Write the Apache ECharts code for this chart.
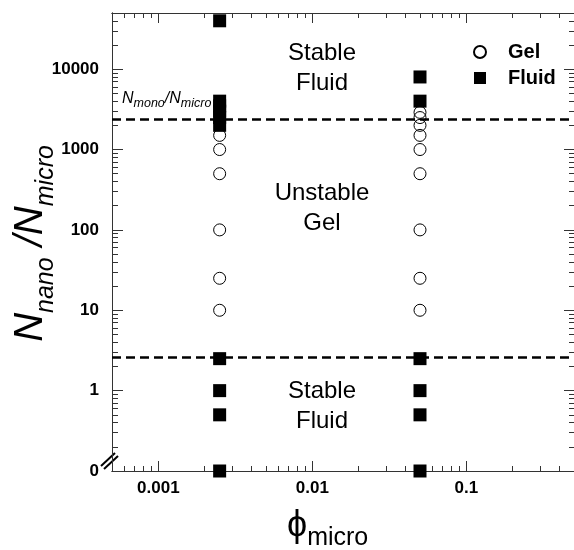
<!DOCTYPE html>
<html><head><meta charset="utf-8">
<script src="https://cdn.jsdelivr.net/npm/echarts@6/dist/echarts.min.js"></script>
<style>html,body{margin:0;padding:0;background:#fff}#c{width:574px;height:550px}</style>
</head><body><div id="c"></div>
<script>
// ---------- data ----------
const X_MIN = 0.0005, X_MAX = 0.5;
const Y_MIN = 0.1, Y_MAX = 50000;          // Y_MIN is the "0" position on the broken axis
const xTickValues = [0.001, 0.01, 0.1];
const xTickLabels = ['0.001', '0.01', '0.1'];
const yTickValues = [1, 10, 100, 1000, 10000];
const yLabelValues = [0.1, 1, 10, 100, 1000, 10000];
const yTickLabels = ['0', '1', '10', '100', '1000', '10000'];

const phiColumns = [0.0025, 0.05];
const gelAtPhi1 = [10, 25, 100, 500, 1000, 1500];
const gelAtPhi2 = [10, 25, 100, 500, 1000, 1500, 2000, 2500, 2900];
const fluidAtPhi1 = [0, 0.5, 1, 2.5, 2000, 2500, 3000, 3500, 4000, 40000];
const fluidAtPhi2 = [0, 0.5, 1, 2.5, 4000, 8000];
const boundaryUpper = 2400;   // N_mono/N_micro
const boundaryLower = 2.6;

// ---------- helpers ----------
const FONT = '"Liberation Sans", Arial, Helvetica, sans-serif';
const toY = v => (v === 0 ? Y_MIN : v);
const pairs = (x, ys) => ys.map(y => [x, toY(y)]);
function minorTicks(lo, hi) {
  const out = [];
  for (let e = Math.floor(Math.log10(lo)); e <= Math.ceil(Math.log10(hi)); e++) {
    for (let m = 2; m <= 9; m++) {
      const v = m * Math.pow(10, e);
      if (v > lo * 1.0001 && v < hi * 0.9999) out.push(v);
    }
  }
  return out;
}
function labelFor(values, labels) {
  return v => {
    for (let i = 0; i < values.length; i++) {
      if (Math.abs(Math.log10(v) - Math.log10(values[i])) < 1e-6) return labels[i];
    }
    return '';
  };
}
const ctx = document.createElement('canvas').getContext('2d');
function tw(s, size, style, weight) {
  ctx.font = (style || 'normal') + ' ' + (weight || 'normal') + ' ' + size + 'px ' + FONT;
  return ctx.measureText(s).width;
}
// parts: {t, size, dy(baseline offset), style, weight}
function subText(parts, x0, y0, rotation) {
  let cx = 0; const children = [];
  parts.forEach(p => {
    children.push({
      type: 'text', x: cx, y: p.dy + 0.15 * p.size,
      style: { text: p.t, fontSize: p.size, fontFamily: FONT, fontStyle: p.style || 'normal',
        fontWeight: p.weight || 'normal', fill: '#000', align: 'left', verticalAlign: 'bottom',
        textAlign: 'left', textVerticalAlign: 'bottom' }
    });
    cx += tw(p.t, p.size, p.style, p.weight);
  });
  return { type: 'group', x: x0, y: y0, rotation: rotation || 0, children };
}
function lenOf(parts) { return parts.reduce((s, p) => s + tw(p.t, p.size, p.style, p.weight), 0); }

const AX = '#333';
const tickLabelStyle = { color: '#000', fontSize: 17, fontWeight: 'bold', fontFamily: FONT };
function logAxis(pos, min, max, extra) {
  return Object.assign({
    type: 'log', logBase: 10, position: pos, min, max, gridIndex: 0,
    axisLine: { show: true, lineStyle: { color: AX, width: 1 } },
    splitLine: { show: false }, minorTick: { show: false }, minorSplitLine: { show: false },
    axisLabel: { show: false }, axisTick: { show: false }
  }, extra);
}
function ticks(values, len) {
  return { show: true, inside: true, length: len, customValues: values, lineStyle: { color: AX, width: 1 } };
}
const xMinor = minorTicks(X_MIN, X_MAX);
const yMinor = minorTicks(Y_MIN, Y_MAX);

// ---------- titles ----------
const yTitleParts = [
  { t: 'N', size: 40, dy: 0, style: 'italic' },
  { t: 'nano', size: 25, dy: 10, style: 'italic' },
  { t: ' /', size: 40, dy: 0, style: 'italic' },
  { t: 'N', size: 40, dy: 0, style: 'italic' },
  { t: 'micro', size: 25, dy: 10, style: 'italic' }
];
const yTitleLen = lenOf(yTitleParts);
const yTitle = subText(yTitleParts, 45, 243.5 + yTitleLen / 2, Math.PI / 2);

const xTitle = subText([
  { t: '\u03D5', size: 36, dy: 0 },
  { t: 'micro', size: 25, dy: 8 }
], 287, 539, 0);

const ratioLabel = subText([
  { t: 'N', size: 16, dy: 0, style: 'italic' },
  { t: 'mono', size: 12.5, dy: 4, style: 'italic' },
  { t: '/', size: 16, dy: 0, style: 'italic' },
  { t: 'N', size: 16, dy: 0, style: 'italic' },
  { t: 'micro', size: 12.5, dy: 4, style: 'italic' }
], 122, 104, 0);

function region(lines, cx, cy) {
  return {
    type: 'text', x: cx, y: cy,
    style: { text: lines.join('\n'), fontSize: 24, lineHeight: 30, fontFamily: FONT, fill: '#000',
      align: 'center', verticalAlign: 'middle', textAlign: 'center', textVerticalAlign: 'middle' }
  };
}

const chart = echarts.init(document.getElementById('c'), null, { renderer: 'canvas' });
chart.setOption({
  animation: false,
  backgroundColor: '#fff',
  grid: { left: 112, top: 13, width: 469, height: 458, containLabel: false },
  xAxis: [
    logAxis('bottom', X_MIN, X_MAX, {
      axisTick: ticks(xTickValues, 10),
      axisLabel: Object.assign({ show: true, customValues: xTickValues, margin: 9,
        formatter: labelFor(xTickValues, xTickLabels) }, tickLabelStyle)
    }),
    logAxis('bottom', X_MIN, X_MAX, { axisTick: ticks(xMinor, 5) }),
    logAxis('top', X_MIN, X_MAX, { axisTick: ticks(xTickValues, 10) }),
    logAxis('top', X_MIN, X_MAX, { axisTick: ticks(xMinor, 5) })
  ],
  yAxis: [
    logAxis('left', Y_MIN, Y_MAX, {
      axisTick: ticks(yTickValues, 11),
      axisLabel: Object.assign({ show: true, customValues: yLabelValues, margin: 13,
        formatter: labelFor(yLabelValues, yTickLabels) }, tickLabelStyle)
    }),
    logAxis('left', Y_MIN, Y_MAX, { axisTick: ticks(yMinor, 6) }),
    logAxis('right', Y_MIN, Y_MAX, { axisTick: ticks(yTickValues, 10) }),
    logAxis('right', Y_MIN, Y_MAX, { axisTick: ticks(yMinor, 5) })
  ],
  legend: {
    orient: 'vertical', left: 468, top: 37, itemWidth: 12, itemHeight: 12, itemGap: 6,
    selectedMode: false,
    textStyle: { fontSize: 20, fontWeight: 'bold', fontFamily: FONT, color: '#000', lineHeight: 20,
      padding: [0, 0, 0, 17] },
    data: [{ name: 'Gel', icon: 'circle' }, { name: 'Fluid', icon: 'rect' }]
  },
  series: [
    {
      name: 'Gel', type: 'scatter', xAxisIndex: 0, yAxisIndex: 0, z: 2,
      symbol: 'circle', symbolSize: 12,
      itemStyle: { color: 'rgba(0,0,0,0)', borderColor: '#000', borderWidth: 1, opacity: 1 },
      data: pairs(phiColumns[0], gelAtPhi1).concat(pairs(phiColumns[1], gelAtPhi2)),
      markLine: {
        silent: true, symbol: ['none', 'none'], label: { show: false },
        lineStyle: { color: '#000', width: 2.5, type: [9, 5] },
        data: [{ yAxis: boundaryUpper }, { yAxis: boundaryLower }]
      }
    },
    {
      name: 'Fluid', type: 'scatter', xAxisIndex: 0, yAxisIndex: 0, z: 3,
      symbol: 'rect', symbolSize: 13,
      itemStyle: { color: '#000', opacity: 1 },
      data: pairs(phiColumns[0], fluidAtPhi1).concat(pairs(phiColumns[1], fluidAtPhi2))
    }
  ],
  graphic: [
    region(['Stable', 'Fluid'], 322, 68),
    region(['Unstable', 'Gel'], 322, 208),
    region(['Stable', 'Fluid'], 322, 406),
    ratioLabel,
    yTitle,
    xTitle,
    // axis break marks at the "0" end of the y axis
    { type: 'line', shape: { x1: 101, y1: 466, x2: 115, y2: 453 }, style: { stroke: '#000', lineWidth: 2 } },
    { type: 'line', shape: { x1: 104, y1: 469, x2: 118, y2: 456 }, style: { stroke: '#000', lineWidth: 2 } }
  ]
});
</script>
</body></html>
